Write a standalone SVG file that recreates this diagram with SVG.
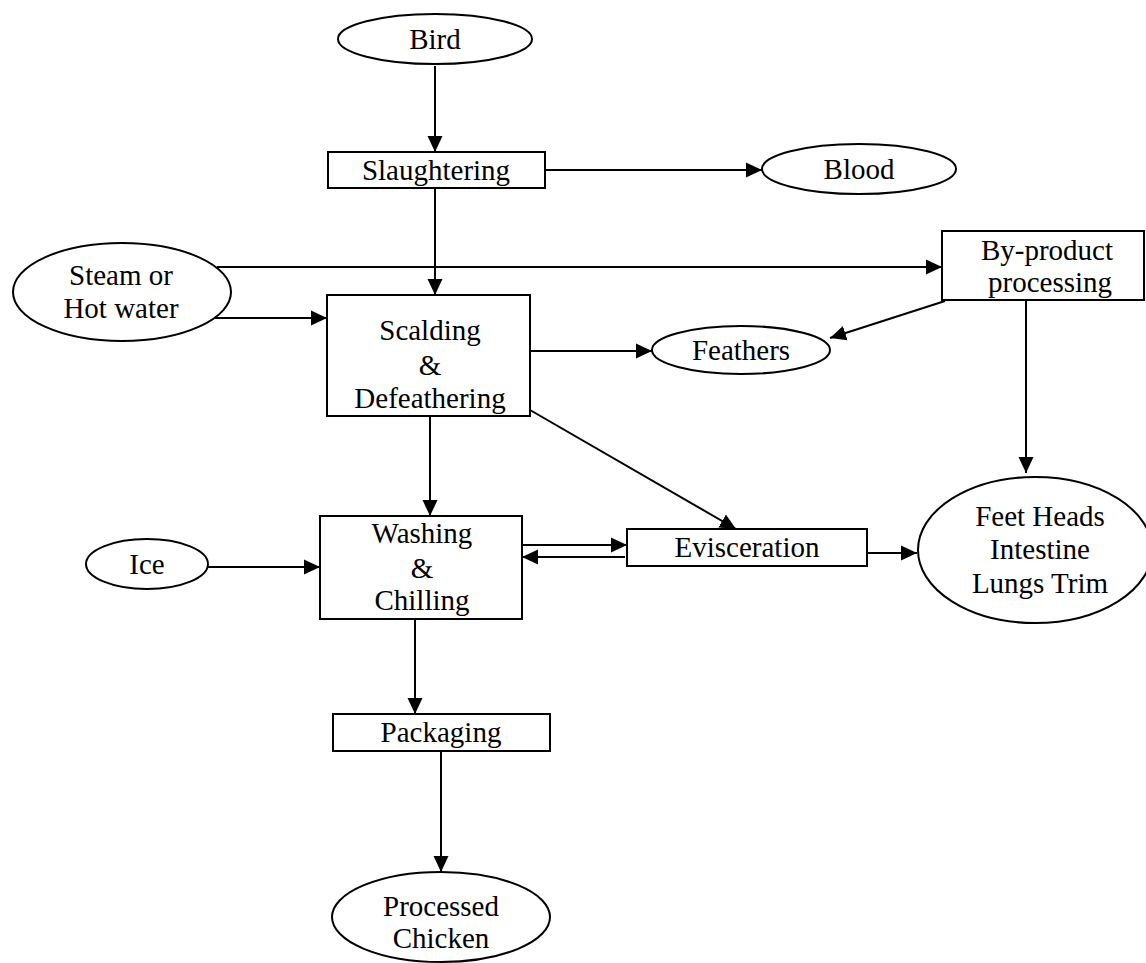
<svg xmlns="http://www.w3.org/2000/svg" width="1146" height="963" viewBox="0 0 1146 963">
<style>
.n{fill:#fff;stroke:#000;stroke-width:2}
.t{font-family:"Liberation Serif","Times New Roman",serif;font-size:29px;fill:#000;text-anchor:middle}
.c{fill:none;stroke:#000;stroke-width:2}
</style>
<defs>
<marker id="ah" markerUnits="userSpaceOnUse" markerWidth="18" markerHeight="18" viewBox="0 0 18 18" refX="16" refY="9" orient="auto">
<path d="M0,1.5 L16,9 L0,16.5 Z" fill="#000"/>
</marker>
</defs>
<rect width="1146" height="963" fill="#fff"/>
<g id="connectors">
<line class="c" x1="435" y1="66" x2="435" y2="152" marker-end="url(#ah)"/>
<line class="c" x1="545" y1="170" x2="762" y2="170" marker-end="url(#ah)"/>
<line class="c" x1="435" y1="188" x2="435" y2="295" marker-end="url(#ah)"/>
<line class="c" x1="217" y1="267" x2="942" y2="267" marker-end="url(#ah)"/>
<line class="c" x1="206" y1="318" x2="327" y2="318" marker-end="url(#ah)"/>
<line class="c" x1="530" y1="351" x2="652" y2="351" marker-end="url(#ah)"/>
<line class="c" x1="945" y1="301" x2="830" y2="338" marker-end="url(#ah)"/>
<line class="c" x1="1026" y1="300" x2="1026" y2="473" marker-end="url(#ah)"/>
<line class="c" x1="430" y1="416" x2="430" y2="516" marker-end="url(#ah)"/>
<line class="c" x1="530" y1="410" x2="736" y2="529" marker-end="url(#ah)"/>
<line class="c" x1="522" y1="545" x2="627" y2="545" marker-end="url(#ah)"/>
<line class="c" x1="625" y1="557" x2="522" y2="557" marker-end="url(#ah)"/>
<line class="c" x1="867" y1="553" x2="917" y2="553" marker-end="url(#ah)"/>
<line class="c" x1="208" y1="567" x2="320" y2="567" marker-end="url(#ah)"/>
<line class="c" x1="415" y1="619" x2="415" y2="714" marker-end="url(#ah)"/>
<line class="c" x1="441" y1="751" x2="441" y2="872" marker-end="url(#ah)"/>
</g>
<g id="bird"><ellipse class="n" cx="435" cy="39" rx="97" ry="25"/><text class="t" x="435" y="49">Bird</text></g>
<g id="slaughtering"><rect class="n" x="328" y="152" width="217" height="36"/><text class="t" x="436" y="180">Slaughtering</text></g>
<g id="blood"><ellipse class="n" cx="859" cy="169" rx="97" ry="25"/><text class="t" x="859" y="179">Blood</text></g>
<g id="steam"><ellipse class="n" cx="122" cy="292" rx="109" ry="49"/><text class="t" x="121" y="285">Steam or</text><text class="t" x="121" y="318">Hot water</text></g>
<g id="byproduct"><rect class="n" x="942" y="231" width="202" height="69"/><text class="t" x="1047" y="260">By-product</text><text class="t" x="1050" y="292">processing</text></g>
<g id="scalding"><rect class="n" x="327" y="295" width="203" height="121"/><text class="t" x="430" y="340">Scalding</text><text class="t" x="430" y="375">&amp;</text><text class="t" x="430" y="408">Defeathering</text></g>
<g id="feathers"><ellipse class="n" cx="741" cy="350" rx="89" ry="24"/><text class="t" x="741" y="360">Feathers</text></g>
<g id="washing"><rect class="n" x="320" y="516" width="202" height="103"/><text class="t" x="422" y="543">Washing</text><text class="t" x="422" y="578">&amp;</text><text class="t" x="422" y="610">Chilling</text></g>
<g id="evisceration"><rect class="n" x="627" y="529" width="240" height="37"/><text class="t" x="747" y="557">Evisceration</text></g>
<g id="feet"><ellipse class="n" cx="1035" cy="550" rx="117" ry="73"/><text class="t" x="1040" y="526">Feet Heads</text><text class="t" x="1040" y="559">Intestine</text><text class="t" x="1040" y="593">Lungs Trim</text></g>
<g id="ice"><ellipse class="n" cx="147" cy="564" rx="61" ry="25"/><text class="t" x="147" y="574">Ice</text></g>
<g id="packaging"><rect class="n" x="333" y="714" width="217" height="37"/><text class="t" x="441" y="742">Packaging</text></g>
<g id="processed"><ellipse class="n" cx="441" cy="917" rx="109" ry="45"/><text class="t" x="441" y="916">Processed</text><text class="t" x="441" y="948">Chicken</text></g>
</svg>
